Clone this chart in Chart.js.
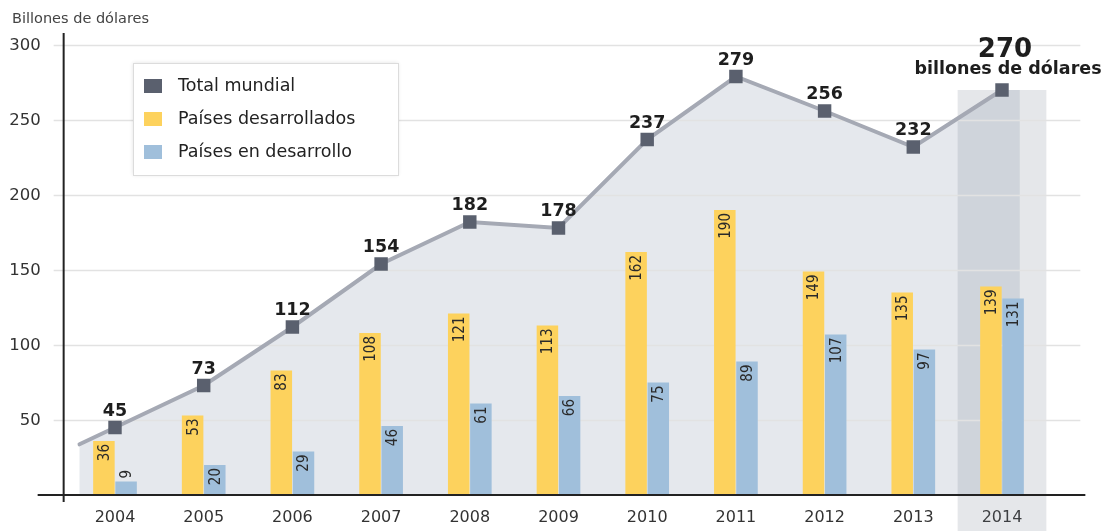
<!DOCTYPE html>
<html>
<head>
<meta charset="utf-8">
<script src="https://cdn.jsdelivr.net/npm/chart.js@4.4.1/dist/chart.umd.min.js"></script>
<style>
  html, body { margin: 0; background: #fff; }
  #wrap { width: 1112px; height: 531px; position: relative; }
</style>
</head>
<body>
<div id="wrap"><canvas id="chart"></canvas></div>
<script>
const years = ['2004', '2005', '2006', '2007', '2008', '2009', '2010', '2011', '2012', '2013', '2014'];
const totalMundial = [45, 73, 112, 154, 182, 178, 237, 279, 256, 232, 270];
const desarrollados = [36, 53, 83, 108, 121, 113, 162, 190, 149, 135, 139];
const enDesarrollo = [9, 20, 29, 46, 61, 66, 75, 89, 107, 97, 131];
const yTicks = [50, 100, 150, 200, 250, 300];
const unitLabel = 'Billones de dólares';
const lastUnitLabel = 'billones de dólares';

const SANS = "'DejaVu Sans', sans-serif";
const CONDENSED = "'DejaVu Sans Condensed', 'Liberation Sans Narrow', sans-serif";
const COLORS = {
  total: '#5a606e',
  line: '#a5a9b4',
  area: '#e5e8ed',
  yellow: '#fdd25d',
  blue: '#a0bfdb',
  highlight: 'rgba(110,120,140,0.18)',
  grid: '#e2e2e2',
  axis: '#222'
};

// shaded area under the total line, gridlines and the 2014 highlight band
const backdrop = {
  id: 'backdrop',
  beforeDatasetsDraw(chart) {
    const {ctx, chartArea, scales: {x, y}} = chart;
    const pts = chart.getDatasetMeta(0).data;
    const step = x.getPixelForValue(1) - x.getPixelForValue(0);
    const base = y.getPixelForValue(0);
    const n = pts.length;

    // line runs a bit past the first year, following the first segment's slope
    const lx = pts[0].x - step * 0.4;
    const ly = pts[0].y - (pts[1].y - pts[0].y) * 0.4;
    const rx = pts[n - 1].x + step * 0.2;

    ctx.save();
    ctx.beginPath();
    ctx.moveTo(lx, base);
    ctx.lineTo(lx, ly);
    pts.forEach(p => ctx.lineTo(p.x, p.y));
    ctx.lineTo(rx, pts[n - 1].y);
    ctx.lineTo(rx, base);
    ctx.closePath();
    ctx.fillStyle = COLORS.area;
    ctx.fill();

    // highlight band for the last year
    const hx = x.getPixelForValue(n - 1);
    const top = y.getPixelForValue(totalMundial[n - 1]);
    ctx.fillStyle = COLORS.highlight;
    ctx.fillRect(hx - step / 2, top, step, chart.height - top);

    ctx.strokeStyle = COLORS.grid;
    ctx.lineWidth = 1.5;
    ctx.fillStyle = '#333';
    ctx.font = '16.5px ' + SANS;
    ctx.textAlign = 'right';
    ctx.textBaseline = 'middle';
    yTicks.forEach(v => {
      const py = Math.round(y.getPixelForValue(v)) + 0.5;
      ctx.beginPath();
      ctx.moveTo(chartArea.left - 17, py);
      ctx.lineTo(chartArea.right + 34, py);
      ctx.stroke();
      ctx.fillText(String(v), chartArea.left - 30, py);
    });

    ctx.strokeStyle = COLORS.line;
    ctx.lineWidth = 4;
    ctx.lineCap = 'round';
    ctx.beginPath();
    ctx.moveTo(lx, ly);
    ctx.lineTo(pts[0].x, pts[0].y);
    ctx.stroke();
    ctx.restore();
  },
  afterDatasetsDraw(chart) {
    const {ctx, chartArea} = chart;
    ctx.save();
    ctx.strokeStyle = COLORS.axis;
    ctx.lineWidth = 2;
    ctx.beginPath();
    ctx.moveTo(chartArea.left - 7, chartArea.top - 12);
    ctx.lineTo(chartArea.left - 7, chartArea.bottom + 7);
    ctx.moveTo(chartArea.left - 33, chartArea.bottom);
    ctx.lineTo(chartArea.right + 39, chartArea.bottom);
    ctx.stroke();
    ctx.restore();
  }
};

// value labels, the unit title and the legend box
const annotations = {
  id: 'annotations',
  afterDraw(chart) {
    const {ctx} = chart;
    ctx.save();

    // rotated values at the top of each bar; short bars get theirs above
    [1, 2].forEach(di => {
      const meta = chart.getDatasetMeta(di);
      const values = chart.data.datasets[di].data;
      meta.data.forEach((bar, i) => {
        const text = String(values[i]);
        ctx.save();
        ctx.font = '15px ' + CONDENSED;
        const len = ctx.measureText(text).width;
        const inside = bar.base - bar.y > len + 8;
        ctx.translate(bar.x + 1, inside ? bar.y + 3 : bar.y - 3);
        ctx.rotate(-Math.PI / 2);
        ctx.fillStyle = '#2a2a2a';
        ctx.textAlign = inside ? 'right' : 'left';
        ctx.textBaseline = 'middle';
        ctx.fillText(text, 0, 0);
        ctx.restore();
      });
    });

    // totals above the markers
    const pts = chart.getDatasetMeta(0).data;
    ctx.fillStyle = '#1e1e1e';
    ctx.textAlign = 'center';
    ctx.textBaseline = 'alphabetic';
    pts.forEach((p, i) => {
      if (i === pts.length - 1) return;
      ctx.font = 'bold 17.5px ' + SANS;
      ctx.fillText(String(totalMundial[i]), p.x, p.y - 12);
    });
    const last = pts[pts.length - 1];
    ctx.font = 'bold 26px ' + SANS;
    ctx.fillText(String(totalMundial[pts.length - 1]), last.x + 3, last.y - 33);
    ctx.font = 'bold 17.5px ' + SANS;
    ctx.fillText(lastUnitLabel, last.x + 6, last.y - 16);

    // unit title
    ctx.font = '14.5px ' + SANS;
    ctx.fillStyle = '#444';
    ctx.textAlign = 'left';
    ctx.textBaseline = 'middle';
    ctx.fillText(unitLabel, 12, 19);

    // legend
    const lx = 133, ly = 63, lw = 265, lh = 112;
    ctx.shadowColor = 'rgba(0,0,0,0.12)';
    ctx.shadowBlur = 4;
    ctx.fillStyle = '#fff';
    ctx.fillRect(lx, ly, lw, lh);
    ctx.shadowColor = 'transparent';
    ctx.strokeStyle = '#dcdcdc';
    ctx.lineWidth = 1;
    ctx.strokeRect(lx + 0.5, ly + 0.5, lw, lh);
    const items = chart.data.datasets.map(d => ({label: d.label, color: d.legendColor}));
    items.forEach((it, i) => {
      const cy = ly + 23 + i * 33;
      ctx.fillStyle = it.color;
      ctx.fillRect(lx + 11, cy - 7, 18, 14);
      ctx.fillStyle = '#222';
      ctx.font = '17.5px ' + SANS;
      ctx.fillText(it.label, lx + 45, cy);
    });
    ctx.restore();
  }
};

new Chart(document.getElementById('chart'), {
  type: 'bar',
  data: {
    labels: years,
    datasets: [
      {
        type: 'line',
        label: 'Total mundial',
        data: totalMundial,
        legendColor: COLORS.total,
        borderColor: COLORS.line,
        borderWidth: 4,
        tension: 0,
        fill: false,
        pointStyle: 'rect',
        pointRadius: 9.5,
        pointBorderWidth: 0,
        pointBackgroundColor: COLORS.total,
        order: 0
      },
      {
        label: 'Países desarrollados',
        data: desarrollados,
        legendColor: COLORS.yellow,
        backgroundColor: COLORS.yellow,
        categoryPercentage: 0.5,
        barPercentage: 0.97,
        order: 1
      },
      {
        label: 'Países en desarrollo',
        data: enDesarrollo,
        legendColor: COLORS.blue,
        backgroundColor: COLORS.blue,
        categoryPercentage: 0.5,
        barPercentage: 0.97,
        order: 1
      }
    ]
  },
  options: {
    responsive: true,
    maintainAspectRatio: false,
    animation: false,
    layout: {padding: {top: 45, right: 65.65, left: 0, bottom: 0}},
    plugins: {
      legend: {display: false},
      tooltip: {enabled: false}
    },
    scales: {
      x: {
        offset: true,
        grid: {display: false, drawTicks: false},
        border: {display: false},
        ticks: {color: '#333', font: {family: SANS, size: 16}, padding: 13},
        afterFit: s => { s.height = 36; }
      },
      y: {
        min: 0,
        max: 300,
        grid: {display: false, drawTicks: false},
        border: {display: false},
        ticks: {display: false, stepSize: 50},
        afterFit: s => { s.width = 70.65; }
      }
    }
  },
  plugins: [backdrop, annotations]
});
</script>
</body>
</html>
